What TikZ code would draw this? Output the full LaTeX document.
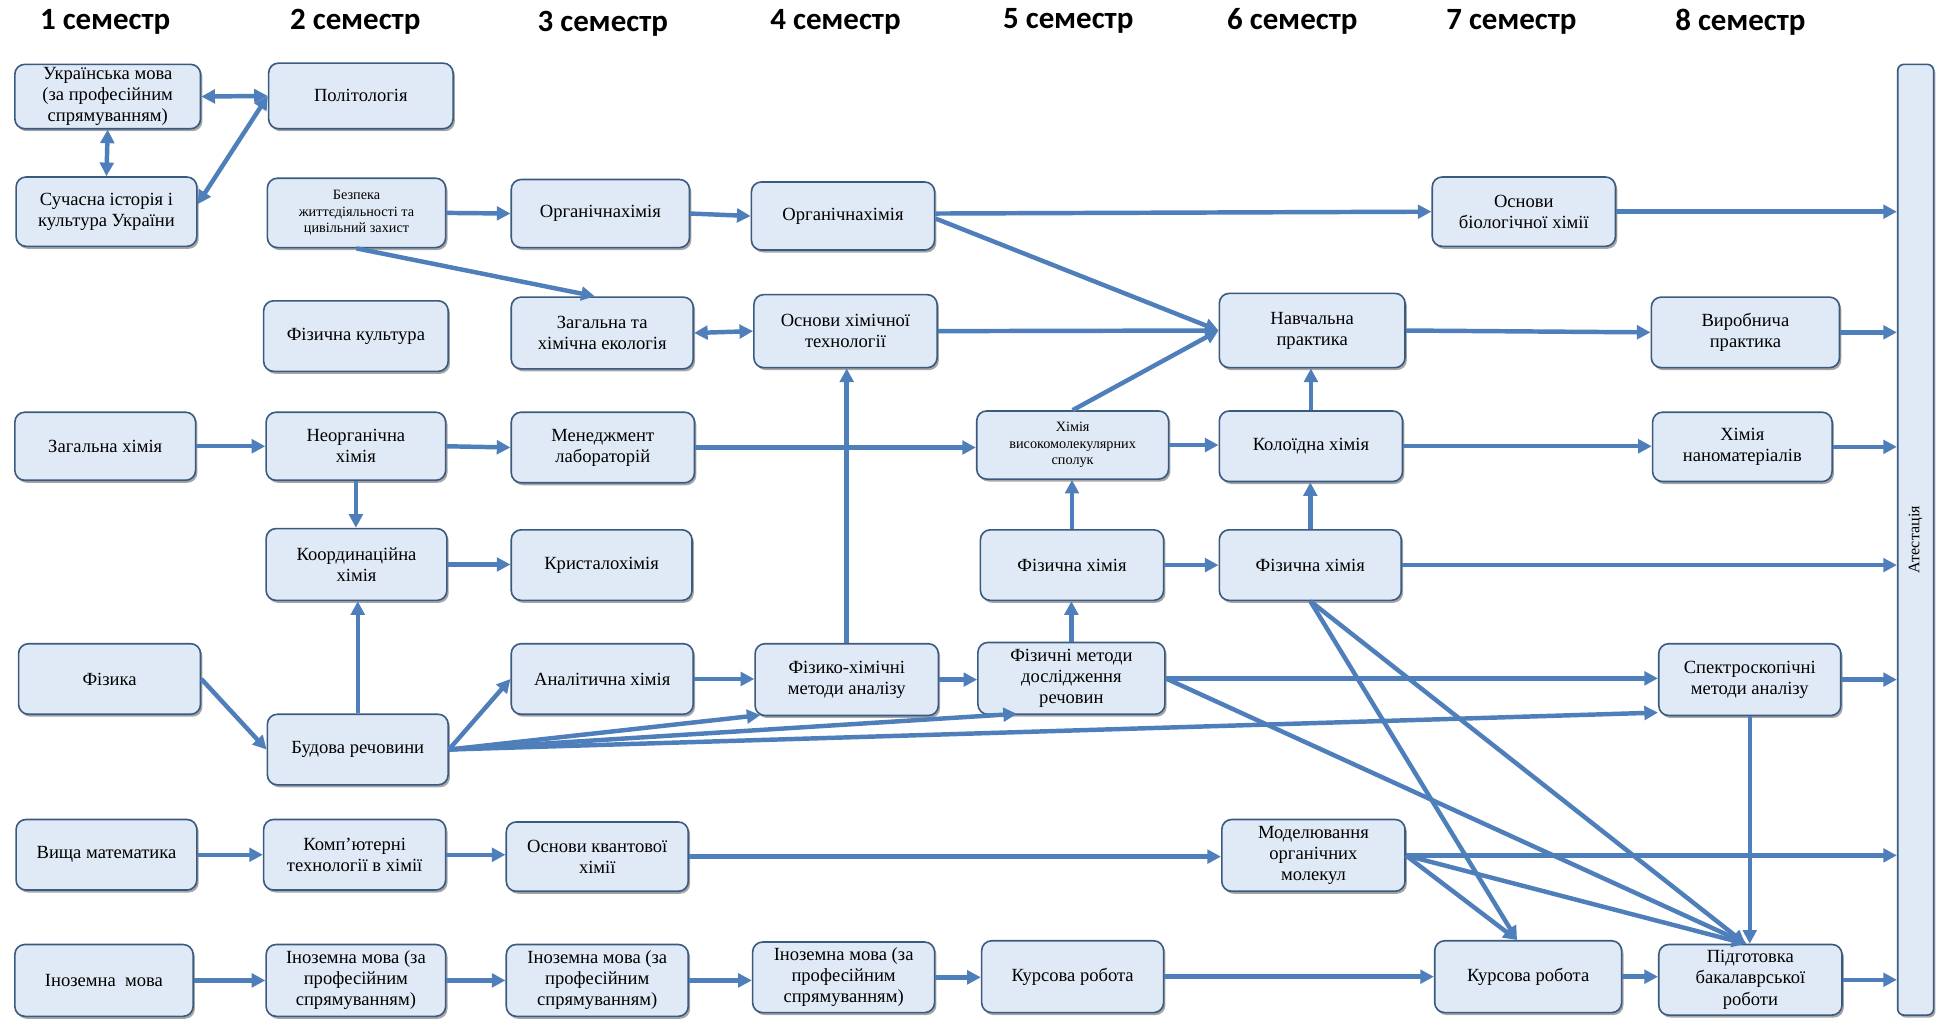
\documentclass[tikz,border=0pt]{standalone}
\usepackage{fontspec}
\setmainfont{Liberation Serif}
\newfontfamily\boxfont{Liberation Serif}
\newfontfamily\hdrfont{Carlito}
\usetikzlibrary{arrows.meta,shadows,calc}
\definecolor{arr}{HTML}{4F7FBA}
\definecolor{boxfill}{HTML}{E0EAF6}
\definecolor{boxdraw}{HTML}{3A5A80}
\begin{document}
\begin{tikzpicture}[x=1pt,y=-1pt,
  bx/.style={draw=boxdraw, line width=1.3pt, fill=boxfill, rounded corners=8pt, align=center, inner sep=1pt,
    font=\boxfont\fontsize{15}{17}\selectfont,
    drop shadow={shadow xshift=1.5pt,shadow yshift=-2pt,opacity=0.35,fill=black}},
  sm/.style={font=\boxfont\fontsize{11.5}{13.5}\selectfont},
  hdr/.style={font=\hdrfont\bfseries\fontsize{25}{28}\selectfont},
  ar/.style={draw=arr, line width=3.6pt, -{Triangle[length=11pt,width=11pt]}},
  dar/.style={draw=arr, line width=3.6pt, {Triangle[length=11pt,width=11pt]}-{Triangle[length=11pt,width=11pt]}},
]
\fill[white] (0,0) rectangle (1568,824);
\useasboundingbox (0,0) rectangle (1568,824);

% headers
\node[hdr] (s1) at (85,18) {1 семестр};
\node[hdr] (s2) at (287,18) {2 семестр};
\node[hdr] (s3) at (487,19) {3 семестр};
\node[hdr] (s4) at (675,18) {4 семестр};
\node[hdr] (s5) at (863,17) {5 семестр};
\node[hdr] (s6) at (1044,17) {6 семестр};
\node[hdr] (s7) at (1221,18) {7 семестр};
\node[hdr] (s8) at (1406,18) {8 семестр};

% boxes
\node[bx,minimum width=150,minimum height=52] (ukr) at (87,78) {Українська мова\\(за професійним\\спрямуванням)};
\node[bx,minimum width=149,minimum height=53] (pol) at (291.5,77.5) {Політологія};
\node[bx,minimum width=146,minimum height=56] (hist) at (86,171) {Сучасна історія і\\культура України};
\node[bx,sm,minimum width=144,minimum height=56] (bzh) at (288,172) {Безпека\\життєдіяльності та\\цивільний захист};
\node[bx,minimum width=144,minimum height=55] (org3) at (485,172.5) {Органічнахімія};
\node[bx,minimum width=148,minimum height=55] (org4) at (681,174.5) {Органічнахімія};
\node[bx,minimum width=148,minimum height=56] (bio) at (1231,171) {Основи\\біологічної хімії};

\node[bx,minimum width=149,minimum height=57] (fizk) at (287.5,271.5) {Фізична культура};
\node[bx,minimum width=147,minimum height=58] (ekol) at (486.5,269) {Загальна та\\хімічна екологія};
\node[bx,minimum width=148,minimum height=59] (tech) at (683,267.5) {Основи хімічної\\технології};
\node[bx,minimum width=150,minimum height=60] (navch) at (1060,267) {Навчальна\\практика};
\node[bx,minimum width=152,minimum height=57] (vyrob) at (1410,268.5) {Виробнича\\практика};

\node[bx,minimum width=146,minimum height=55] (zagh) at (85,360.5) {Загальна хімія};
\node[bx,minimum width=145,minimum height=55] (neorg) at (287.5,360.5) {Неорганічна\\хімія};
\node[bx,minimum width=148,minimum height=57] (menedzh) at (487,361.5) {Менеджмент\\лабораторій};
\node[bx,sm,minimum width=155,minimum height=55] (hvms) at (866.5,359.5) {Хімія\\високомолекулярних\\сполук};
\node[bx,minimum width=148,minimum height=57] (koloid) at (1059,360.5) {Колоїдна хімія};
\node[bx,minimum width=145,minimum height=56] (nano) at (1407.5,361) {Хімія\\наноматеріалів};

\node[bx,minimum width=146,minimum height=58] (koord) at (288,456) {Координаційна\\хімія};
\node[bx,minimum width=146,minimum height=57] (kryst) at (486,456.5) {Кристалохімія};
\node[bx,minimum width=148,minimum height=57] (fh5) at (866,456.5) {Фізична хімія};
\node[bx,minimum width=147,minimum height=57] (fh6) at (1058.5,456.5) {Фізична хімія};

\node[bx,minimum width=147,minimum height=57] (fizyka) at (88.5,548.5) {Фізика};
\node[bx,minimum width=147,minimum height=57] (analit) at (486.5,548.5) {Аналітична хімія};
\node[bx,minimum width=148,minimum height=58] (fxma) at (684,549) {Фізико-хімічні\\методи аналізу};
\node[bx,minimum width=151,minimum height=58] (fmd) at (865.5,548) {Фізичні методи\\дослідження\\речовин};
\node[bx,minimum width=147,minimum height=58] (spektr) at (1413.5,549) {Спектроскопічні\\методи аналізу};
\node[bx,minimum width=146,minimum height=57] (budova) at (289,605.5) {Будова речовини};

\node[bx,minimum width=146,minimum height=57] (vyshch) at (86,690.5) {Вища математика};
\node[bx,minimum width=147,minimum height=57] (komp) at (286.5,690.5) {Комп’ютерні\\технології в хімії};
\node[bx,minimum width=147,minimum height=56] (kvant) at (482.5,692) {Основи квантової\\хімії};
\node[bx,minimum width=148,minimum height=58] (model) at (1061,691) {Моделювання\\органічних\\молекул};

\node[bx,minimum width=144,minimum height=58] (inoz1) at (84,792) {Іноземна~ мова};
\node[bx,minimum width=145,minimum height=58] (inoz2) at (287.5,792) {Іноземна мова (за\\професійним\\спрямуванням)};
\node[bx,minimum width=147,minimum height=58] (inoz3) at (482.5,792) {Іноземна мова (за\\професійним\\спрямуванням)};
\node[bx,minimum width=147,minimum height=57] (inoz4) at (681.5,789.5) {Іноземна мова (за\\професійним\\спрямуванням)};
\node[bx,minimum width=147,minimum height=58] (kurs5) at (866.5,789) {Курсова робота};
\node[bx,minimum width=151,minimum height=58] (kurs7) at (1234.5,789) {Курсова робота};
\node[bx,minimum width=148,minimum height=57] (pidg) at (1414,791.5) {Підготовка\\бакалаврської\\роботи};

\node[bx,minimum width=29,minimum height=768,rounded corners=5pt] (atest) at (1547.5,436) {};
\node[rotate=90,font=\boxfont\fontsize{13}{15}\selectfont] (atestt) at (atest.center) {Атестація};

% connectors
\draw[dar] (ukr.east) -- (pol.west);
\draw[dar] (pol.west) -- ($(hist.east)+(0,-6)$);
\draw[dar] (ukr.south) -- (hist.north);

\draw[ar] (bzh.east) -- (org3.west);
\draw[ar] (org3.east) -- (org4.west);
\draw[ar] ($(org4.east)+(0,-2)$) -- (bio.west);
\draw[ar] ($(org4.east)+(0,2)$) -- (navch.west);
\draw[ar] (bzh.south) -- ($(ekol.north)+(-6,0)$);
\draw[dar] (ekol.east) -- (tech.west);
\draw[ar] (tech.east) -- (navch.west);
\draw[ar] (hvms.north) -- (navch.west);
\draw[ar] (navch.east) -- (vyrob.west);
\draw[ar] (vyrob.east) -- (vyrob.east -| atest.west);
\draw[ar] (bio.east) -- (bio.east -| atest.west);

\draw[ar] (zagh.east) -- (neorg.west);
\draw[ar] (neorg.east) -- (menedzh.west);
\draw[ar] (menedzh.east) -- (menedzh.east -| hvms.west);
\draw[ar] (hvms.east) -- (hvms.east -| koloid.west);
\draw[ar] (koloid.north) -- (koloid.north |- navch.south);
\draw[ar] (koloid.east) -- (koloid.east -| nano.west);
\draw[ar] (nano.east) -- (nano.east -| atest.west);

\draw[ar] (neorg.south) -- (neorg.south |- koord.north);
\draw[ar] (koord.east) -- (koord.east -| kryst.west);
\draw[ar] (fh5.north) -- (fh5.north |- hvms.south);
\draw[ar] (fh5.east) -- (fh5.east -| fh6.west);
\draw[ar] (fh6.north) -- (fh6.north |- koloid.south);
\draw[ar] (fh6.east) -- (fh6.east -| atest.west);

\draw[ar] (fizyka.east) -- (budova.west);
\draw[ar] (budova.north) -- (budova.north |- koord.south);
\draw[ar] (budova.east) -- (analit.west);
\draw[ar] (budova.east) -- ($(fxma.south west)+(5,-1)$);
\draw[ar] (budova.east) -- ($(fmd.south)+(-44,-1)$);
\draw[ar] (budova.east) -- ($(spektr.south west)+(0,-3)$);
\draw[ar] (analit.east) -- (analit.east -| fxma.west);
\draw[ar] (fxma.north) -- (fxma.north |- tech.south);
\draw[ar] (fxma.east) -- (fxma.east -| fmd.west);
\draw[ar] (fmd.north) -- (fmd.north |- fh5.south);
\draw[ar] (fmd.east) -- (fmd.east -| spektr.west);
\draw[ar] (fmd.east) -- ($(pidg.north)+(-3,0)$);
\draw[ar] (spektr.east) -- (spektr.east -| atest.west);
\draw[ar] (spektr.south) -- (spektr.south |- pidg.north);
\draw[ar] (fh6.south) -- ($(kurs7.north)+(-9,0)$);
\draw[ar] (fh6.south) -- ($(pidg.north)+(-4,0)$);

\draw[ar] (vyshch.east) -- (vyshch.east -| komp.west);
\draw[ar] (komp.east) -- (komp.east -| kvant.west);
\draw[ar] (kvant.east) -- (kvant.east -| model.west);
\draw[ar] (model.east) -- (model.east -| atest.west);
\draw[ar] (model.east) -- ($(kurs7.north)+(-9,0)$);
\draw[ar] (model.east) -- ($(pidg.north)+(-4,0)$);

\draw[ar] (inoz1.east) -- (inoz1.east -| inoz2.west);
\draw[ar] (inoz2.east) -- (inoz2.east -| inoz3.west);
\draw[ar] (inoz3.east) -- (inoz3.east -| inoz4.west);
\draw[ar] (inoz4.east) -- (inoz4.east -| kurs5.west);
\draw[ar] (kurs5.east) -- (kurs5.east -| kurs7.west);
\draw[ar] (kurs7.east) -- (kurs7.east -| pidg.west);
\draw[ar] (pidg.east) -- (pidg.east -| atest.west);
\end{tikzpicture}
\end{document}
